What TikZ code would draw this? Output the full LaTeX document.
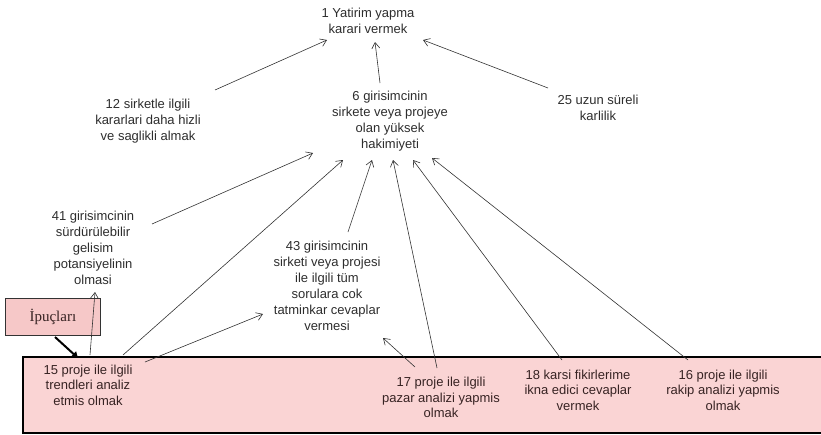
\documentclass[tikz,border=0pt]{standalone}
\usepackage{fontspec}
\setmainfont{Liberation Sans}
\newfontfamily\serifx{Liberation Serif}
\usetikzlibrary{arrows.meta}
\definecolor{txt}{RGB}{45,45,45}
\definecolor{boxtxt}{RGB}{55,35,35}
\definecolor{pinkfill}{RGB}{250,212,212}
\definecolor{pinkfill2}{RGB}{246,200,200}
\definecolor{linec}{RGB}{50,50,50}
\tikzset{
  lbl/.style={align=center, inner sep=0pt, text=txt, font=\fontsize{13}{16}\selectfont},
  boxlbl/.style={align=center, inner sep=0pt, text=boxtxt, font=\fontsize{13}{15.5}\selectfont},
  conn/.style={draw=linec, line width=0.6pt, -{Straight Barb[length=6pt,width=8pt,line width=0.6pt]}},
  thickconn/.style={draw=black, line width=2pt, -{Triangle[length=6pt,width=7pt]}}
}
\begin{document}
\begin{tikzpicture}[x=1pt,y=-1pt]
\useasboundingbox (0,0) rectangle (821,434);
% big box
\node[draw=black, line width=1.8pt, fill=pinkfill, minimum width=800pt, minimum height=76pt, inner sep=0pt, anchor=north west] (bigbox) at (22,356) {};
% hint box
\node[draw=black!80, line width=0.8pt, fill=pinkfill2, minimum width=95pt, minimum height=37pt, inner sep=0pt, anchor=north west, font=\serifx\fontsize{15}{17}\selectfont, text=boxtxt] (ipu) at (5,298) {İpuçları};

\node[lbl] (n1) at (368,20.5) {1 Yatirim yapma\\karari vermek};
\node[lbl] (n12) at (148,121) {12 sirketle ilgili\\kararlari daha hizli\\ve saglikli almak};
\node[lbl] (n6) at (390,121.5) {6 girisimcinin\\sirkete veya projeye\\olan yüksek\\hakimiyeti};
\node[lbl] (n25) at (598,108) {25 uzun süreli\\karlilik};
\node[lbl] (n41) at (93,247.5) {41 girisimcinin\\sürdürülebilir\\gelisim\\potansiyelinin\\olmasi};
\node[lbl] (n43) at (327,285.5) {43 girisimcinin\\sirketi veya projesi\\ile ilgili tüm\\sorulara cok\\tatminkar cevaplar\\vermesi};
\node[boxlbl] (n15) at (88,385) {15 proje ile ilgili\\trendleri analiz\\etmis olmak};
\node[boxlbl] (n17) at (441,397.5) {17 proje ile ilgili\\pazar analizi yapmis\\olmak};
\node[boxlbl] (n18) at (578,390) {18 karsi fikirlerime\\ikna edici cevaplar\\vermek};
\node[boxlbl] (n16) at (723,390) {16 proje ile ilgili\\rakip analizi yapmis\\olmak};

% connector end points
\coordinate (s12) at (215,90);   \coordinate (e12) at (327,40);
\coordinate (s6)  at (380,83);   \coordinate (e6)  at (375,42);
\coordinate (s25) at (548,88);   \coordinate (e25) at (423,40);
\coordinate (s41) at (152,224);  \coordinate (e41) at (313,153);
\coordinate (s15a) at (123,355); \coordinate (e15a) at (343,160);
\coordinate (s43) at (348,232);  \coordinate (e43) at (372,160);
\coordinate (s17) at (437,368);  \coordinate (e17) at (393,160);
\coordinate (s18) at (562,360);  \coordinate (e18) at (413,160);
\coordinate (s16) at (688,360);  \coordinate (e16) at (432,158);
\coordinate (s15b) at (90,355);  \coordinate (e15b) at (95,292);
\coordinate (s15c) at (145,362); \coordinate (e15c) at (263,314);
\coordinate (s17b) at (415,367); \coordinate (e17b) at (383,338);
\coordinate (sip) at (55,337);   \coordinate (eip) at (78,358);

\draw[conn] (s12) -- (e12);
\draw[conn] (s6) -- (e6);
\draw[conn] (s25) -- (e25);
\draw[conn] (s41) -- (e41);
\draw[conn] (s15a) -- (e15a);
\draw[conn] (s43) -- (e43);
\draw[conn] (s17) -- (e17);
\draw[conn] (s18) -- (e18);
\draw[conn] (s16) -- (e16);
\draw[conn] (s15b) -- (e15b);
\draw[conn] (s15c) -- (e15c);
\draw[conn] (s17b) -- (e17b);
\draw[thickconn] (sip) -- (eip);
\end{tikzpicture}
\end{document}
